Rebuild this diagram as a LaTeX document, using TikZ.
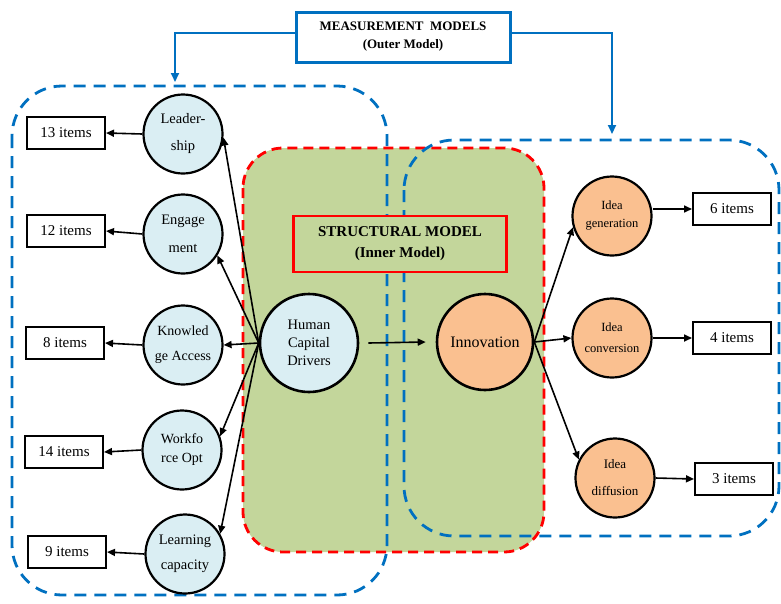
\documentclass[tikz,border=0pt]{standalone}
\usepackage{fontspec}
\setmainfont{Liberation Serif}
\usetikzlibrary{arrows.meta}
\definecolor{olivefill}{HTML}{C3D69B}
\definecolor{latentblue}{HTML}{DAEEF3}
\definecolor{latentorange}{HTML}{FAC090}
\definecolor{frameblue}{HTML}{0070C0}
\newcommand{\fs}[2]{\fontsize{#1}{#2}\selectfont}
\begin{document}
\begin{tikzpicture}[x=1pt,y=-1pt,
  latent/.style={circle,draw=black,line width=2.2pt,minimum size=79pt,inner sep=0pt,align=center},
  hclat/.style={latent,fill=latentblue},
  inlat/.style={latent,fill=latentorange},
  itembox/.style={draw=black,line width=2pt,minimum width=78pt,minimum height=32pt,inner sep=0pt,font=\fs{15}{18}},
  arr/.style={line width=1.6pt,-{Triangle[length=8pt,width=7pt]}},
  bluearr/.style={frameblue,line width=2pt,-{Triangle[length=9pt,width=8pt]}},
  bluedash/.style={frameblue,line width=2.8pt,dash pattern=on 12pt off 8pt,rounded corners=50pt},
]
\useasboundingbox (0,0) rectangle (781,603);

% inner (structural) model region
\fill[olivefill,rounded corners=40pt] (243,148) rectangle (544,552);
\draw[red,line width=2.8pt,dash pattern=on 10pt off 6pt,rounded corners=40pt] (243,148) rectangle (544,552);

% outer (measurement) model regions
\draw[bluedash] (12,86) rectangle (387,595);
\draw[bluedash] (404,140) rectangle (779,536);

% headings
\node[draw=frameblue,line width=3pt,fill=white,minimum width=214pt,minimum height=50pt,align=center,font=\bfseries\fs{13}{18}] (mm) at (403,37) {MEASUREMENT\ \ MODELS\\(Outer Model)};
\node[draw=red,line width=2.8pt,fill=olivefill,minimum width=213pt,minimum height=56pt,align=center,font=\bfseries\fs{15}{21}] (sm) at (400,244) {STRUCTURAL MODEL\\(Inner Model)};

\coordinate (lt) at (175,82);
\coordinate (rt) at (612,134);
\draw[bluearr] ([yshift=4pt]mm.west) -| (lt);
\draw[bluearr] ([yshift=4pt]mm.east) -| (rt);

% human capital constructs
\node[hclat,font=\fs{14.5}{27}] (lead) at (183,134) {Leader-\\ship};
\node[hclat,font=\fs{14.5}{28}] (eng) at (183,234) {Engage\\ment};
\node[hclat,font=\fs{14}{25}] (ka) at (183,345) {Knowled\\ge Access};
\node[hclat,font=\fs{14}{19}] (wf) at (182,450) {Workfo\\rce Opt};
\node[hclat,font=\fs{14.5}{25}] (lc) at (185,554) {Learning\\capacity};

\node[itembox] (b13) at (66,133) {13 items};
\node[itembox] (b12) at (66,231) {12 items};
\node[itembox] (b8) at (65,343) {8 items};
\node[itembox] (b14) at (64,452) {14 items};
\node[itembox] (b9) at (67,552) {9 items};

% central constructs
\node[hclat,line width=2.6pt,minimum size=98pt,font=\fs{14.5}{18}] (hcd) at (309,343) {Human\\Capital\\Drivers};
\node[inlat,line width=2.6pt,minimum size=96pt,font=\fs{16}{19}] (inn) at (485,342) {Innovation};

% innovation constructs
\node[inlat,font=\fs{12.5}{18}] (gen) at (612,216) {Idea\\generation};
\node[inlat,font=\fs{12.5}{21}] (conv) at (612,338) {Idea\\conversion};
\node[inlat,font=\fs{13}{27}] (diff) at (615,478) {Idea\\diffusion};

\node[itembox] (b6) at (732,209) {6 items};
\node[itembox] (b4) at (732,338) {4 items};
\node[itembox] (b3) at (734,479) {3 items};

% indicator arrows
\draw[arr] (lead.west) -- (b13.east);
\draw[arr] (eng.west) -- (b12.east);
\draw[arr] (ka.west) -- (b8.east);
\draw[arr] (wf.west) -- (b14.east);
\draw[arr] (lc.west) -- (b9.east);
\draw[arr] (gen.east |- b6.west) -- (b6.west);
\draw[arr] (conv.east) -- (b4.west);
\draw[arr] (diff.east) -- (b3.west);

% construct paths
\draw[arr] (hcd.west) -- (lead.-5);
\draw[arr] (hcd.west) -- (eng.-32);
\draw[arr] (hcd.west) -- (ka.east);
\draw[arr] (hcd.west) -- (wf.20);
\draw[arr] (hcd.west) -- (lc.30);
\draw[arr] ([xshift=9pt]hcd.east) -- ([xshift=-10pt]inn.west);
\draw[arr] (inn.east) -- (gen.196);
\draw[arr] (inn.east) -- (conv.west);
\draw[arr] (inn.east) -- (diff.153);
\end{tikzpicture}
\end{document}
